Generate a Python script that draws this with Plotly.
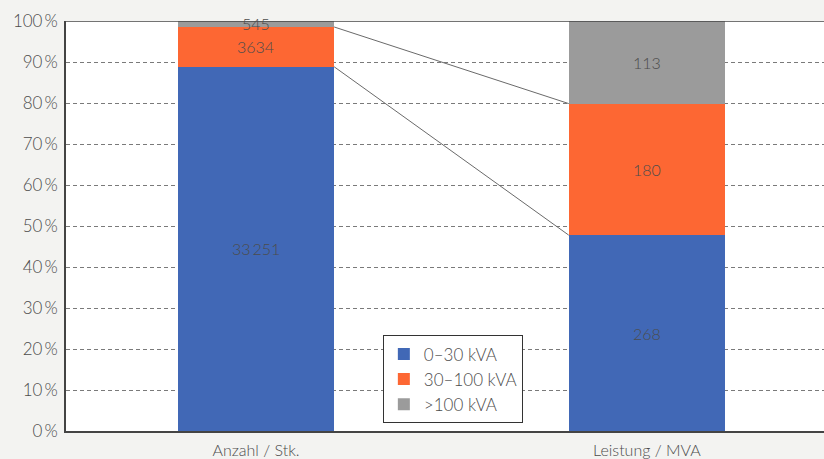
import plotly.graph_objects as go

categories = ["Anzahl / Stk.", "Leistung / MVA"]
series_names = ["0–30 kVA", "30–100 kVA", ">100 kVA"]
values_0_30 = [33251, 268]
values_30_100 = [3634, 180]
values_100_plus = [545, 113]
label_texts = [["33\u2009251", "268"], ["3634", "180"], ["545", "113"]]
colors = ["#4168b6", "#fd6733", "#9b9b9b"]
y_ticks = [0, 10, 20, 30, 40, 50, 60, 70, 80, 90, 100]

series = [values_0_30, values_30_100, values_100_plus]
totals = [sum(s[i] for s in series) for i in range(len(categories))]
shares = [[100.0 * s[i] / totals[i] for i in range(len(categories))] for s in series]

FONT = "Lato"
TXT = "#4c4c4c"
BAR_W = 0.4

fig = go.Figure()
for name, col, sh in zip(series_names, colors, shares):
    fig.add_trace(go.Bar(
        x=[0, 1], y=sh, name=name, width=BAR_W,
        marker=dict(color=col, line=dict(width=0)),
        hoverinfo="skip",
    ))

# value labels centred in each segment
annotations = []
for k, sh in enumerate(shares):
    for i in range(len(categories)):
        base = sum(shares[j][i] for j in range(k))
        annotations.append(dict(
            x=i, y=base + sh[i] / 2, xref="x", yref="y",
            text=label_texts[k][i], showarrow=False,
            font=dict(family=FONT, size=16, color=TXT, weight=300),
        ))

# connector lines between the segment tops of the two bars
shapes = []
for k in range(2):
    top0 = sum(shares[j][0] for j in range(k + 1))
    top1 = sum(shares[j][1] for j in range(k + 1))
    shapes.append(dict(
        type="line", xref="x", yref="y",
        x0=BAR_W / 2, y0=top0, x1=1 - BAR_W / 2, y1=top1,
        line=dict(color="#6a6a6a", width=1),
    ))
# top frame line
shapes.append(dict(type="line", xref="paper", yref="y", x0=0, x1=1, y0=100, y1=100,
                   line=dict(color="#444444", width=1.5), layer="above"))

fig.update_layout(
    width=824, height=459,
    margin=dict(l=66, r=0, t=21, b=26),
    paper_bgcolor="#f3f3f1",
    plot_bgcolor="#ffffff",
    barmode="stack",
    bargap=0,
    showlegend=True,
    legend=dict(
        x=0.418, y=0.233, xanchor="left", yanchor="top",
        traceorder="normal",
        bgcolor="#ffffff", bordercolor="#333333", borderwidth=1,
        font=dict(family=FONT, size=17, color=TXT, weight=300),
        itemsizing="constant", tracegroupgap=0, itemwidth=30,
    ),
    annotations=annotations,
    shapes=shapes,
    xaxis=dict(
        range=[-0.486, 1.453], tickvals=[0, 1], ticktext=categories,
        showgrid=False, zeroline=False,
        showline=True, linecolor="#444444", linewidth=1.5,
        ticks="", ticklabelstandoff=4,
        tickfont=dict(family=FONT, size=16, color=TXT, weight=300),
        fixedrange=True,
    ),
    yaxis=dict(
        range=[0, 100], tickvals=y_ticks,
        ticktext=[f"{t}\u2009%" for t in y_ticks],
        showgrid=True, gridcolor="#7a7a7a", griddash="4px,3px", gridwidth=1,
        zeroline=False, showline=True, linecolor="#444444", linewidth=1.5,
        ticks="", ticklabelstandoff=3,
        tickfont=dict(family=FONT, size=17, color=TXT, weight=300),
        fixedrange=True,
    ),
)

fig.write_html("out.html")
